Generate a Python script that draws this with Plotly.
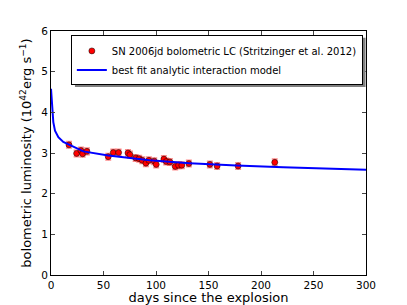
import plotly.graph_objects as go

# Observed bolometric light curve (days since explosion, 1e42 erg/s)
obs_days = [17.1, 24.4, 28.5, 30.1, 34.2, 54.5, 59.3, 64.4, 73.3, 75.2,
            80.6, 84.0, 86.9, 90.4, 93.2, 98.3, 100.2, 107.5, 109.7, 113.2,
            118.3, 121.5, 124.6, 131.3, 151.3, 158.2, 178.2, 213.1]
obs_lum = [3.20, 2.99, 3.06, 2.98, 3.04, 2.91, 3.01, 3.01, 3.00, 2.96,
           2.88, 2.86, 2.82, 2.75, 2.82, 2.80, 2.72, 2.85, 2.79, 2.78,
           2.67, 2.70, 2.70, 2.74, 2.72, 2.68, 2.68, 2.77]
obs_err = [0.08] * len(obs_days)

# Best-fit analytic interaction model
model_days = [0, 0.6, 1.3, 2.2, 3.8, 7, 11.7, 17, 30.8, 54.5, 94, 132, 176.6, 221, 300]
model_lum = [4.58, 4.25, 4.04, 3.76, 3.55, 3.39, 3.27, 3.21, 3.04, 2.94, 2.82, 2.75, 2.69, 2.65, 2.59]

x_ticks = [0, 50, 100, 150, 200, 250, 300]
y_ticks = [0, 1, 2, 3, 4, 5, 6]

fig = go.Figure()
fig.add_trace(go.Scatter(
    x=obs_days, y=obs_lum, mode="markers",
    name="SN 2006jd bolometric LC (Stritzinger et al. 2012)",
    marker=dict(color="#ff0000", size=6, line=dict(color="black", width=0.5)),
    error_y=dict(type="data", array=obs_err, color="rgba(255,0,0,0.45)", thickness=1.5, width=3),
))
fig.add_trace(go.Scatter(
    x=model_days, y=model_lum, mode="lines",
    name="best fit analytic interaction model",
    line=dict(color="#0000ff", width=2),
))

# legend drop shadow (matplotlib-style)
fig.add_shape(type="rect", xref="paper", yref="paper",
              x0=0.076, x1=0.9985, y0=0.77, y1=0.972,
              fillcolor="#7f7f7f", line=dict(width=0), layer="above")

fig.update_layout(
    width=407, height=305,
    margin=dict(l=51, r=41, t=31, b=30, autoexpand=False),
    paper_bgcolor="white", plot_bgcolor="white",
    font=dict(family="DejaVu Sans", size=10.5, color="black"),
    showlegend=True,
    legend=dict(x=0.99, y=0.982, xanchor="right", yanchor="top",
                bgcolor="white", bordercolor="black", borderwidth=1,
                font=dict(size=10), tracegroupgap=0, itemwidth=30),
)
fig.update_xaxes(range=[0, 300], tickvals=x_ticks, ticks="inside", ticklen=4,
                 showline=True, linecolor="black", linewidth=1, mirror="ticks",
                 showgrid=False, zeroline=False, automargin=False,
                 title=dict(text="days since the explosion", standoff=2))
fig.update_yaxes(range=[0, 6], tickvals=y_ticks, ticks="inside", ticklen=4,
                 showline=True, linecolor="black", linewidth=1, mirror="ticks",
                 showgrid=False, zeroline=False, automargin=False,
                 title=dict(text="bolometric luminosity (10<sup>42</sup>erg s<sup>−1</sup>)", standoff=6))

fig.write_html("out.html", config={"displayModeBar": False},
               post_script="document.body.style.margin='0px';document.body.style.padding='0px';")
